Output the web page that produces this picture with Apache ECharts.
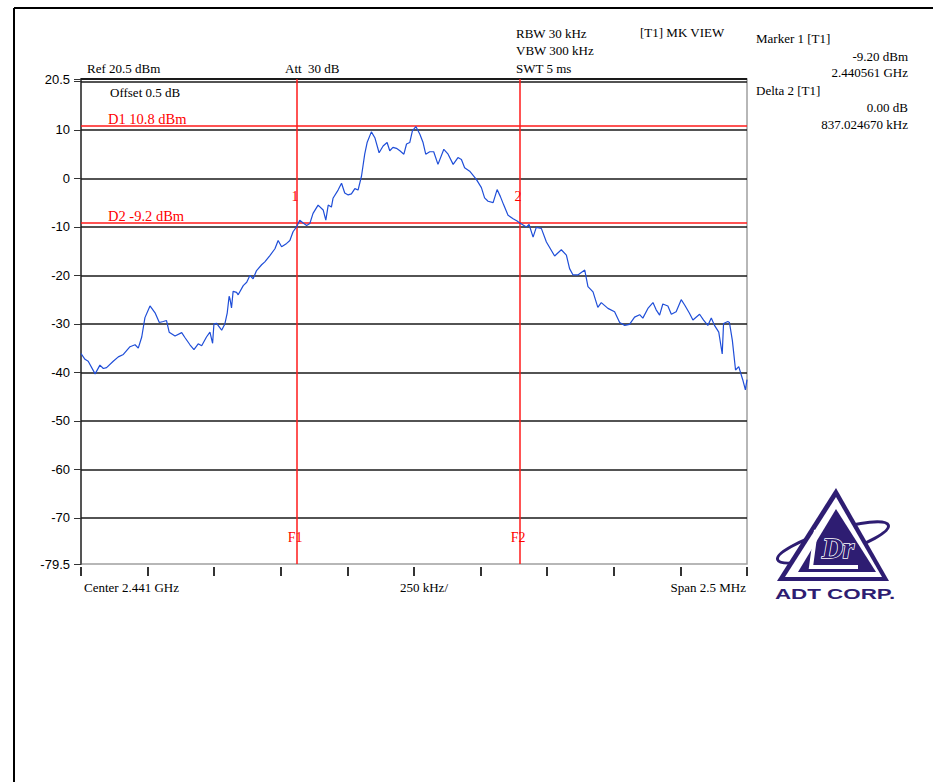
<!DOCTYPE html>
<html>
<head>
<meta charset="utf-8">
<title>Spectrum plot</title>
<script src="https://cdn.jsdelivr.net/npm/echarts@6/dist/echarts.min.js"></script>
<style>
html, body { margin: 0; padding: 0; background: #fff; }
#chart { width: 933px; height: 782px; }
</style>
</head>
<body>
<div id="chart"></div>
<script>
// trace, frequency as offset from center 2.441 GHz (kHz)
const freqKHz = [-1250, -1235, -1223, -1197, -1179, -1166, -1154, -1129, -1110, -1091,
    -1066, -1047, -1035, -1022, -1010, -991, -972, -956, -941, -929,
    -919, -897, -872, -860, -841, -826, -810, -797, -779, -766,
    -756, -751, -741, -722, -710, -701, -694, -691, -685, -679,
    -666, -660, -641, -628, -616, -604, -591, -572, -560, -541,
    -522, -510, -497, -478, -466, -454, -441, -429, -416, -403,
    -391, -379, -360, -341, -331, -322, -310, -304, -285, -272,
    -260, -247, -235, -222, -210, -197, -185, -176, -160, -147,
    -131, -116, -101, -91, -79, -66, -53, -38, -28, -16,
    -6, 7, 22, 34, 44, 59, 74, 90, 112, 128,
    147, 165, 178, 190, 209, 234, 253, 265, 278, 297,
    312, 324, 337, 353, 372, 387, 397, 422, 432, 447,
    459, 478, 497, 528, 553, 572, 584, 597, 615, 641,
    653, 672, 690, 703, 728, 753, 772, 791, 809, 828,
    847, 859, 878, 897, 909, 922, 934, 953, 966, 984,
    1003, 1016, 1034, 1047, 1072, 1087, 1103, 1116, 1128, 1144,
    1157, 1162, 1178, 1184, 1195, 1207, 1219, 1234, 1244, 1250]
const levelDbm = [-36.1, -37.3, -37.7, -40.3, -38.5, -39.2, -39.0, -37.7, -36.8, -36.3,
    -34.7, -34.3, -35.0, -32.7, -28.7, -26.3, -27.7, -29.7, -29.5, -29.3,
    -31.7, -32.5, -31.8, -32.8, -34.3, -35.3, -34.1, -34.5, -32.7, -31.7,
    -34.0, -30.0, -29.9, -31.3, -30.0, -27.7, -24.3, -24.8, -26.7, -23.3,
    -23.5, -24.0, -22.1, -21.4, -20.0, -20.7, -19.0, -17.8, -17.2, -15.9,
    -14.5, -12.8, -14.1, -13.4, -12.8, -11.0, -10.0, -8.6, -9.2, -9.7,
    -9.3, -7.2, -5.5, -6.5, -8.6, -5.5, -5.9, -4.1, -2.4, -1.0,
    -3.0, -3.4, -3.2, -2.1, -2.4, 0.5, 5.0, 7.4, 9.6, 8.4,
    5.3, 6.7, 7.4, 5.7, 6.4, 6.2, 5.7, 5.0, 7.1, 7.4,
    9.8, 10.7, 9.1, 7.4, 5.0, 5.5, 5.5, 2.9, 6.0, 5.0,
    2.9, 4.3, 3.9, 2.2, 1.5, -0.2, -1.9, -4.0, -4.7, -5.0,
    -2.3, -3.7, -5.5, -7.6, -8.3, -8.8, -9.2, -10.0, -9.5, -12.1,
    -10.1, -10.3, -13.1, -16.0, -14.7, -15.8, -18.6, -19.9, -19.9, -18.9,
    -22.3, -23.4, -26.6, -25.6, -26.8, -27.5, -29.7, -30.3, -30.1, -28.6,
    -28.1, -28.8, -26.8, -25.6, -27.1, -28.2, -25.9, -26.3, -28.0, -27.5,
    -25.0, -26.1, -27.8, -29.2, -28.0, -29.2, -30.3, -28.8, -30.3, -31.7,
    -36.2, -29.9, -29.5, -29.7, -33.4, -39.5, -38.8, -41.5, -43.6, -41.5]

const yTickLabels = [20.5, 10, 0, -10, -20, -30, -40, -50, -60, -70, -79.5]
const gridLevels = [10, 0, -10, -20, -30, -40, -50, -60, -70]
const displayLines = [{ name: 'D1 10.8 dBm', value: 10.8 }, { name: 'D2 -9.2 dBm', value: -9.2 }]
const freqLines = [{ name: 'F1', value: -439 }, { name: 'F2', value: 398 }]
const markers = [{ name: '1', freq: -439, level: -9.2 }, { name: '2', freq: 398, level: -9.2 }]

const serif = '"Liberation Serif", "Times New Roman", serif'
const sans = '"Liberation Sans", Arial, sans-serif'
const navy = '#2e1d72'

let chart = echarts.init(document.getElementById('chart'), null, { renderer: 'svg' })

// text around the plot
const headerTexts = [
    ['Ref 20.5 dBm', 87, 68, 'left'],
    ['Att  30 dB', 285, 68, 'left'],
    ['RBW 30 kHz', 516, 33, 'left'],
    ['VBW 300 kHz', 516, 50, 'left'],
    ['SWT 5 ms', 516, 68, 'left'],
    ['[T1] MK VIEW', 640, 32, 'left'],
    ['Marker 1 [T1]', 756, 38, 'left'],
    ['-9.20 dBm', 908, 56, 'right'],
    ['2.440561 GHz', 908, 72, 'right'],
    ['Delta 2 [T1]', 756, 90, 'left'],
    ['0.00 dB', 908, 107, 'right'],
    ['837.024670 kHz', 908, 124, 'right'],
    ['Offset 0.5 dB', 110, 92, 'left'],
    ['Center 2.441 GHz', 84, 587, 'left'],
    ['250 kHz/', 424, 587, 'center'],
    ['Span 2.5 MHz', 746, 587, 'right']
]
let graphics = headerTexts.map(t => ({
    type: 'text',
    x: t[1],
    y: t[2],
    style: {
        text: t[0],
        fill: '#000',
        font: '13px ' + serif,
        textAlign: t[3],
        textVerticalAlign: 'middle'
    }
}))

// page frame
graphics.push({ type: 'line', shape: { x1: 14, y1: 8, x2: 933, y2: 8 }, style: { stroke: '#000', lineWidth: 2 } })
graphics.push({ type: 'line', shape: { x1: 14, y1: 8, x2: 14, y2: 782 }, style: { stroke: '#000', lineWidth: 2 } })

// ADT logo
graphics.push({
    type: 'ellipse',
    shape: { cx: 833, cy: 543, rx: 58, ry: 12 },
    rotation: 0.3,
    originX: 833,
    originY: 543,
    style: { fill: 'none', stroke: navy, lineWidth: 3 }
})
graphics.push({ type: 'polygon', shape: { points: [[836, 488], [777, 581], [889, 581]] }, style: { fill: navy } })
graphics.push({ type: 'polygon', shape: { points: [[836, 497], [785, 577], [882, 577]] }, style: { fill: '#fff' } })
graphics.push({ type: 'polygon', shape: { points: [[836, 509], [798, 572], [876, 572]] }, style: { fill: navy } })
graphics.push({
    type: 'polyline',
    shape: { points: [[816, 530], [811, 567], [858, 567]] },
    style: { stroke: '#fff', lineWidth: 4, fill: 'none' }
})
graphics.push({
    type: 'text', x: 838, y: 548,
    style: {
        text: 'Dr', font: 'italic bold 29px ' + serif, fill: navy,
        stroke: '#fff', lineWidth: 1.5, textAlign: 'center', textVerticalAlign: 'middle'
    }
})
graphics.push({
    type: 'text', x: 835, y: 594, scaleX: 1.6, originX: 0, originY: 0,
    style: {
        text: 'ADT CORP.', font: 'bold 14px ' + sans, fill: navy,
        textAlign: 'center', textVerticalAlign: 'middle'
    }
})

let option = {
    backgroundColor: '#fff',
    animation: false,
    grid: {
        left: 81,
        top: 79,
        width: 666,
        height: 485,
        show: true,
        borderColor: '#a0a0a0',
        borderWidth: 1.5
    },
    xAxis: [{
        type: 'value',
        min: -1250,
        max: 1250,
        interval: 250,
        axisLine: { show: false },
        axisTick: { show: false },
        axisLabel: { show: false },
        splitLine: { show: false }
    }, {
        type: 'value',
        position: 'bottom',
        offset: 3,
        min: -1250,
        max: 1250,
        interval: 250,
        axisLine: { show: false },
        axisTick: { show: true, length: 9, lineStyle: { color: '#333', width: 2 } },
        axisLabel: { show: false },
        splitLine: { show: false }
    }],
    yAxis: {
        type: 'value',
        min: -79.5,
        max: 20.5,
        axisLine: { show: true, onZero: false, lineStyle: { color: '#555', width: 2 } },
        axisTick: {
            show: true,
            length: 7,
            customValues: yTickLabels.concat([19.95]),
            lineStyle: { color: '#333', width: 1 }
        },
        axisLabel: {
            customValues: yTickLabels,
            margin: 11,
            color: '#000',
            fontFamily: sans,
            fontSize: 13,
            formatter: v => String(v)
        },
        splitLine: { show: false }
    },
    graphic: graphics,
    series: [
        {
            // graticule
            type: 'line',
            data: [],
            silent: true,
            markLine: {
                silent: true,
                symbol: 'none',
                label: { show: false },
                lineStyle: { color: '#1a1a1a', width: 1.5, type: 'solid' },
                data: gridLevels.map(v => ({ yAxis: v }))
                    .concat([{ yAxis: 20.5, lineStyle: { width: 2 } }, { yAxis: 19.95 }])
            }
        },
        {
            // display lines, frequency lines and marker labels
            type: 'line',
            data: [],
            silent: true,
            markLine: {
                silent: true,
                symbol: 'none',
                lineStyle: { color: '#ff1a1a', width: 1.5, type: 'solid' },
                label: { show: false },
                data: displayLines.map(d => ({
                    yAxis: d.value,
                    label: {
                        show: true,
                        formatter: d.name,
                        position: 'insideStartTop',
                        distance: [27, 0],
                        color: '#ff0000',
                        fontFamily: serif,
                        fontSize: 14.5
                    }
                })).concat(freqLines.map(f => ({ xAxis: f.value })))
            },
            markPoint: {
                silent: true,
                symbol: 'circle',
                symbolSize: 0,
                label: {
                    show: true,
                    color: '#ff0000',
                    fontFamily: serif,
                    fontSize: 14,
                    formatter: p => p.name
                },
                data: freqLines.map(f => ({
                    name: f.name, coord: [f.value, -79.5], label: { offset: [-2, -27] }
                })).concat(markers.map(m => ({
                    name: m.name, coord: [m.freq, m.level], label: { offset: [-2, -27] }
                })))
            }
        },
        {
            name: 'Trace',
            type: 'line',
            data: freqKHz.map((f, i) => [f, levelDbm[i]]),
            showSymbol: false,
            symbol: 'none',
            z: 5,
            lineStyle: { color: '#1f4ed8', width: 1.2 },
            itemStyle: { color: '#1f4ed8' }
        }
    ]
}
chart.setOption(option)
window.addEventListener('resize', function() {
    chart.resize()
})
</script>
</body>
</html>
